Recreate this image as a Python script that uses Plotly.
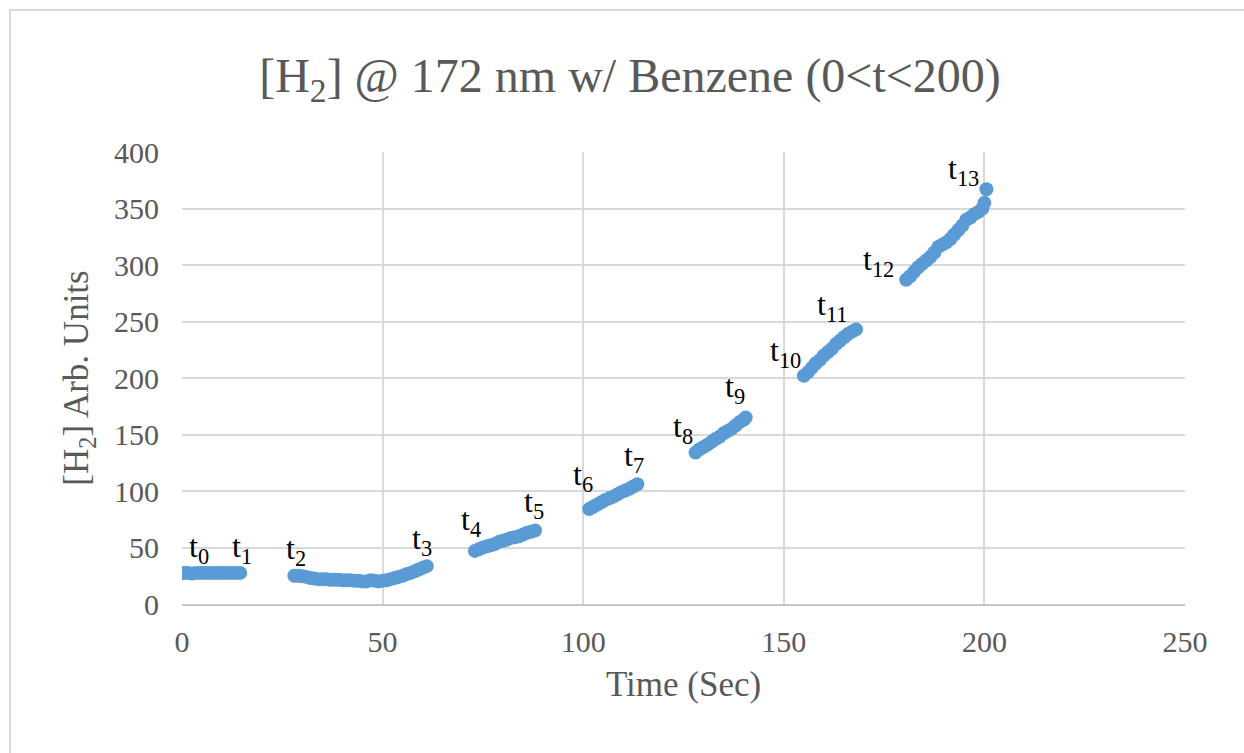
import plotly.graph_objects as go

# ---- data ----
seg_x = [
    [0.5, 1.5, 2.5, 3.5, 4.5, 5.5, 6.5, 7.5, 8.5, 9.5, 10.5, 11.5, 12.5, 13.5, 14.5],
    [28, 29, 30, 31, 32, 33, 34, 35, 36, 37, 38, 39, 40, 41, 42, 43, 44, 45, 46, 47,
     48, 49, 50, 51, 52, 53, 54, 55, 56, 57, 58, 59, 60, 61],
    [73, 74, 75, 76, 77, 78, 79, 80, 81, 82, 83, 84, 85, 86, 87, 88],
    [101.5, 102.5, 103.5, 104.5, 105.5, 106.5, 107.5, 108.5, 109.5, 110.5, 111.5, 112.5, 113.5],
    [128, 129, 130, 131, 132, 133, 134, 135, 136, 137, 138, 139, 140, 140.5],
    [155, 156, 157, 158, 159, 160, 161, 162, 163, 164, 165, 166, 167, 168],
    [180.5, 181.5, 182.5, 183.5, 184.5, 185.5, 186.5, 187.5, 188.5, 189.5, 190.5,
     191.5, 192.5, 193.5, 194.5, 195.5, 196.5, 197.5, 198.5, 199.5, 200, 200.5],
]
seg_y = [
    [27.5, 27.5, 27, 27.5, 27.5, 27.5, 27.5, 27.5, 27.5, 27.5, 27.5, 27.5, 27.5, 27.5, 27.5],
    [25, 25, 24.5, 24, 23, 22.5, 22, 22, 22, 21.5, 21.5, 21.5, 21, 21, 21, 20.5, 20.5, 20,
     20, 21, 20.5, 20, 20.5, 21, 22, 23, 24, 25, 26.5, 27.5, 29, 30.5, 32, 33.5],
    [47, 48.5, 50, 51, 52, 53, 55, 56, 57, 58.5, 59, 60, 61.5, 63, 64, 65],
    [84, 86, 88, 90, 92, 93.5, 95, 97, 99, 100.5, 102, 104, 106],
    [134, 137, 139, 141, 143.5, 146, 148, 151, 153, 155, 158, 161, 163, 165],
    [202, 205, 209, 213, 216, 220, 223, 226, 230, 233, 236, 239, 241, 243],
    [287, 290, 294, 298, 301, 304, 307, 311, 316, 318, 320, 323, 327, 331, 335, 340,
     342, 345, 347, 350, 355, 367],
]
label_text = ["t<sub>%d</sub>" % i for i in range(14)]
label_x = [4.3, 15, 28.4, 59.8, 72, 87.7, 100, 112.7, 124.9, 137.8, 150.3, 162, 173.5, 194.7]
label_y = [49.5, 49.5, 47, 56.6, 73, 88.5, 113, 130, 155.7, 191, 223, 263, 303, 384]

x_all = [v for s in seg_x for v in s]
y_all = [v for s in seg_y for v in s]

SERIF = "Liberation Serif, Times New Roman, serif"
GREY = "#595959"

fig = go.Figure()
fig.add_trace(go.Scatter(
    x=x_all, y=y_all, mode="markers",
    marker=dict(color="#5b9bd5", size=14, line=dict(width=0)),
    showlegend=False, hoverinfo="x+y",
))

for t, lx, ly in zip(label_text, label_x, label_y):
    fig.add_annotation(x=lx, y=ly, text=t, showarrow=False,
                       font=dict(family=SERIF, size=32, color="#000000"),
                       xanchor="center", yanchor="middle")

fig.update_layout(
    width=1244, height=753,
    margin=dict(l=182, r=59, t=152, b=149),
    paper_bgcolor="white", plot_bgcolor="white",
    title=dict(text="[H<sub>2</sub>] @ 172 nm w/ Benzene (0&lt;t&lt;200)",
               font=dict(family=SERIF, size=48, color=GREY),
               x=630 / 1244, xref="container", xanchor="center",
               y=1 - 75 / 753, yref="container", yanchor="middle"),
    font=dict(family=SERIF, color=GREY),
    shapes=[dict(type="rect", xref="paper", yref="paper",
                 x0=(10 - 182) / 1003, x1=(1260 - 182) / 1003,
                 y0=(604 - 770) / 452, y1=(604 - 10) / 452,
                 line=dict(color="#d9d9d9", width=2), fillcolor="rgba(0,0,0,0)",
                 layer="below")],
)
fig.update_xaxes(range=[0, 250], dtick=50, tick0=0,
                 showgrid=True, gridcolor="#d9d9d9", gridwidth=2,
                 zeroline=False, showline=True, linecolor="#c6c6c6", linewidth=2,
                 ticks="", tickfont=dict(family=SERIF, size=30, color=GREY),
                 ticklabelstandoff=10,
                 title=dict(text="Time (Sec)", font=dict(family=SERIF, size=35, color=GREY),
                            standoff=14))
fig.update_yaxes(range=[0, 400], dtick=50, tick0=0,
                 showgrid=True, gridcolor="#d9d9d9", gridwidth=2,
                 zeroline=False, showline=False,
                 ticks="", tickfont=dict(family=SERIF, size=30, color=GREY),
                 ticklabelstandoff=22,
                 title=dict(text="[H<sub>2</sub>] Arb. Units",
                            font=dict(family=SERIF, size=35, color=GREY),
                            standoff=14))

fig.write_html("out.html", config={"displayModeBar": False},
               post_script="document.body.style.margin='0';")
